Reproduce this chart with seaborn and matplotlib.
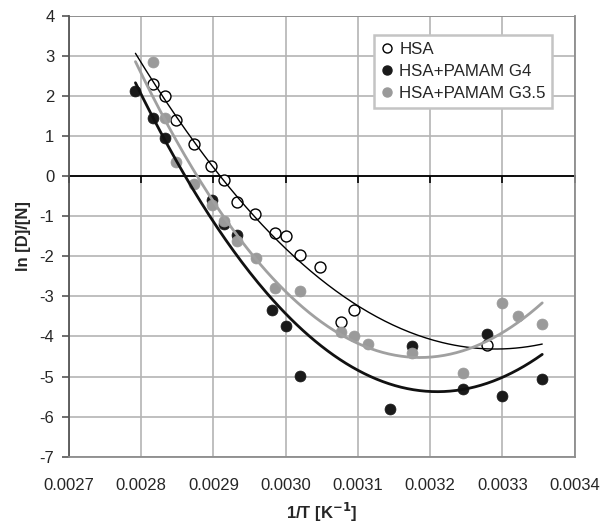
import numpy as np
import pandas as pd
import matplotlib
matplotlib.use("Agg")
import matplotlib.pyplot as plt
import seaborn as sns
from matplotlib.lines import Line2D

# ---- data ----
hsa_x = [0.002816, 0.002833, 0.002848, 0.002873, 0.002897, 0.002914, 0.002932, 0.002958,
         0.002985, 0.003001, 0.003020, 0.003048, 0.003076, 0.003095, 0.003278]
hsa_y = [2.30, 2.00, 1.41, 0.80, 0.26, -0.09, -0.65, -0.95,
         -1.41, -1.49, -1.98, -2.28, -3.63, -3.34, -4.21]

g4_x = [0.002792, 0.002816, 0.002833, 0.002898, 0.002914, 0.002932, 0.002981, 0.003001,
        0.003020, 0.003144, 0.003175, 0.003246, 0.003278, 0.003300, 0.003354]
g4_y = [2.12, 1.44, 0.95, -0.60, -1.20, -1.47, -3.35, -3.73,
        -4.98, -5.82, -4.25, -5.31, -3.94, -5.48, -5.06]

g35_x = [0.002816, 0.002833, 0.002848, 0.002873, 0.002898, 0.002914, 0.002932, 0.002959,
         0.002985, 0.003020, 0.003076, 0.003095, 0.003114, 0.003175, 0.003246, 0.003300,
         0.003321, 0.003354]
g35_y = [2.85, 1.44, 0.35, -0.21, -0.72, -1.12, -1.61, -2.05,
         -2.80, -2.86, -3.90, -4.00, -4.20, -4.42, -4.92, -3.17,
         -3.49, -3.69]

series_names = ["HSA", "HSA+PAMAM G4", "HSA+PAMAM G3.5"]
x_ticks = [0.0027, 0.0028, 0.0029, 0.0030, 0.0031, 0.0032, 0.0033, 0.0034]
x_tick_labels = ["0.0027", "0.0028", "0.0029", "0.0030", "0.0031", "0.0032", "0.0033", "0.0034"]
y_ticks = [4, 3, 2, 1, 0, -1, -2, -3, -4, -5, -6, -7]
trend_range = [0.002792, 0.003355]

# ---- style ----
sns.set_style("white")
plt.rcParams["font.family"] = ["Liberation Sans", "DejaVu Sans"]

fig = plt.figure(figsize=(6.05, 5.27), dpi=100)
ax = fig.add_axes([0.114, 0.1334, 0.836, 0.8368])

grid_c = "#b4b4b4"
for xt in x_ticks:
    ax.axvline(xt, color=grid_c, lw=1.2, zorder=0)
for yt in y_ticks:
    ax.axhline(yt, color=grid_c, lw=1.2, zorder=0)
ax.axhline(4, color="#8c8c8c", lw=1.3, zorder=0.5)

df_hsa = pd.DataFrame({"x": hsa_x, "y": hsa_y})
df_g4 = pd.DataFrame({"x": g4_x, "y": g4_y})
df_g35 = pd.DataFrame({"x": g35_x, "y": g35_y})

ms = 62
sns.scatterplot(data=df_hsa, x="x", y="y", ax=ax, s=ms, facecolor="white",
                edgecolor="black", linewidth=1.0, zorder=3)
sns.scatterplot(data=df_g4, x="x", y="y", ax=ax, s=ms, color="#1a1a1a",
                edgecolor="#1a1a1a", linewidth=0.5, zorder=4)
sns.scatterplot(data=df_g35, x="x", y="y", ax=ax, s=ms, color="#9a9a9a",
                edgecolor="#9a9a9a", linewidth=0.5, zorder=5)

# polynomial (order 2) trendlines
xx = np.linspace(trend_range[0], trend_range[1], 200)
for df, col, lw in [(df_hsa, "black", 1.0), (df_g4, "#111111", 2.0), (df_g35, "#a0a0a0", 2.0)]:
    c = np.polyfit(df["x"], df["y"], 2)
    tr = pd.DataFrame({"x": xx, "y": np.polyval(c, xx)})
    sns.lineplot(data=tr, x="x", y="y", ax=ax, color=col, lw=lw, zorder=6)

ax.set_xlim(0.0027, 0.0034)
ax.set_ylim(-7, 4)
ax.set_xticks(x_ticks)
ax.set_xticklabels(x_tick_labels)
ax.set_yticks(y_ticks)
ax.set_yticklabels([str(v) for v in y_ticks])

# x-axis line crosses at y = 0 with downward ticks; labels stay at bottom
ax.spines["top"].set_position(("data", 0))
ax.spines["top"].set_color("black")
ax.spines["top"].set_linewidth(1.3)
ax.spines["top"].set_zorder(2)
ax.spines["bottom"].set_color("#8c8c8c")
ax.spines["bottom"].set_linewidth(1.3)
ax.spines["right"].set_color("#8c8c8c")
ax.spines["right"].set_linewidth(1.3)
ax.spines["left"].set_color("#555555")
ax.spines["left"].set_linewidth(1.3)
ax.tick_params(axis="x", top=True, bottom=False, labeltop=False, labelbottom=True,
               direction="in", length=5, width=1.2, color="black", labelsize=12, pad=15)
ax.tick_params(axis="y", left=True, direction="out", length=5, width=1.2,
               color="#555555", labelsize=12, pad=5.5)

ax.set_xlabel("1/T [K$^{\\mathbf{-1}}$]", fontsize=12, fontweight="bold", labelpad=6)
ax.set_ylabel("ln [D]/[N]", fontsize=12, fontweight="bold", labelpad=6)

handles = [
    Line2D([], [], ls="none", marker="o", markersize=6.5, markerfacecolor="white",
           markeredgecolor="black", markeredgewidth=1.0),
    Line2D([], [], ls="none", marker="o", markersize=6.5, markerfacecolor="#1a1a1a",
           markeredgecolor="#1a1a1a"),
    Line2D([], [], ls="none", marker="o", markersize=6.5, markerfacecolor="#9a9a9a",
           markeredgecolor="#9a9a9a"),
]
leg = ax.legend(handles, series_names, loc="upper right", bbox_to_anchor=(0.956, 0.956),
                fontsize=12.2, frameon=True, fancybox=False, framealpha=1, edgecolor="#c4c4c4",
                handlelength=0.8, handletextpad=0.3, borderpad=0.4, labelspacing=0.42,
                borderaxespad=0)
leg.get_frame().set_linewidth(1.8)
leg.set_zorder(10)

fig.savefig("out.png", dpi=100, facecolor="white")
